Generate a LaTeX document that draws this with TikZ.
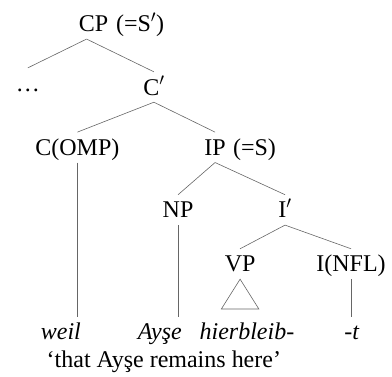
\documentclass[tikz,border=0pt]{standalone}
\usepackage{fontspec}
\setmainfont{Liberation Serif}
\usepackage{xcolor}

\begin{document}
\begin{tikzpicture}[font=\fontsize{24}{28}\selectfont,
  cat/.style={anchor=base,inner xsep=1pt,inner ysep=7pt,text height=16pt,text depth=0pt},
  branch/.style={draw=black!60,line width=0.6pt}]
\useasboundingbox (0,0) rectangle (13.78,-13.22);
% categories
\node[cat] (cp) at (3.29,-1.12) {CP};
\node[cat,anchor=base west] (cpeq) at (4.04,-1.12) {(=S$'$)};
\node[cat] (dots) at (0.98,-3.20) {\ldots};
\node[cat] (cbar) at (5.41,-3.34) {C$'$};
\node[cat] (comp) at (2.72,-5.46) {C(OMP)};
\node[cat] (ip) at (7.56,-5.46) {IP};
\node[cat,anchor=base west] (ipeq) at (8.15,-5.46) {(=S)};
\node[cat] (np) at (6.26,-7.66) {NP};
\node[cat] (ibar) at (10.02,-7.66) {I$'$};
\node[cat] (vp) at (8.44,-9.56) {VP};
\node[cat] (infl) at (12.34,-9.56) {I(NFL)};
% words
\node[cat] (weil) at (2.14,-11.95) {\textit{weil}};
\node[cat] (ayse) at (5.62,-11.95) {\textit{Ayşe}};
\node[cat] (bleib) at (8.68,-11.95) {\textit{hierbleib-}};
\node[cat] (t) at (12.37,-11.95) {\textit{-t}};
\node[cat] (gloss) at (5.76,-12.93) {`that Ayşe remains here'};
% branches
\draw[branch] ([xshift=-7pt]cp.south) -- (dots.north);
\draw[branch] ([xshift=-7pt]cp.south) -- (cbar.north);
\draw[branch] (cbar.south) -- (comp.north);
\draw[branch] (cbar.south) -- (ip.north);
\draw[branch] (ip.south) -- (np.north);
\draw[branch] (ip.south) -- (ibar.north);
\draw[branch] (ibar.south) -- (vp.north);
\draw[branch] (ibar.south) -- (infl.north);
\draw[branch] (comp.south) -- (comp.south |- weil.north);
\draw[branch] (np.south) -- (np.south |- ayse.north);
\draw[branch] (infl.south) -- (infl.south |- t.north);
\draw[branch] (vp.south) -- ++(-0.66,-1.05) -- ++(1.32,0) -- cycle;
\end{tikzpicture}
\end{document}
